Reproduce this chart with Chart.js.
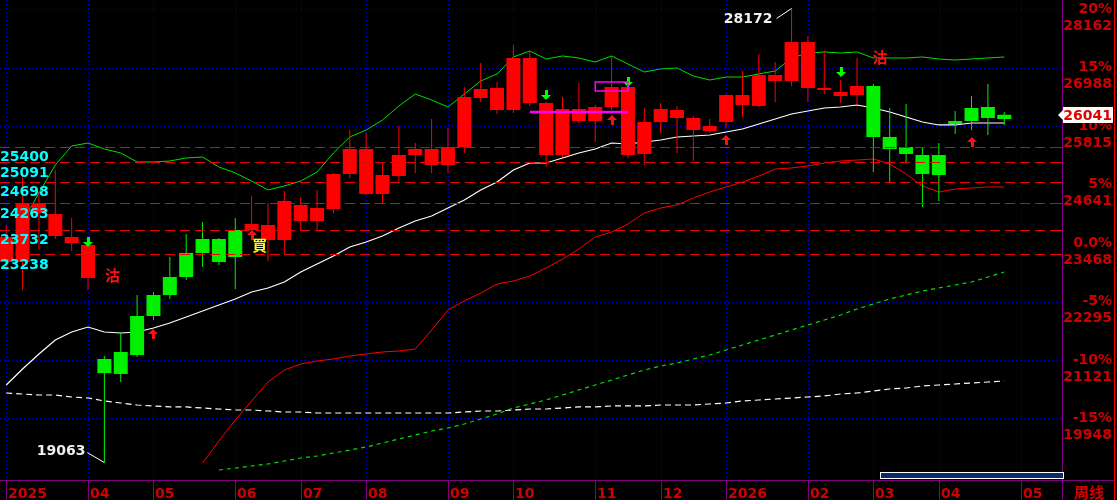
<!DOCTYPE html>
<html lang="zh-Hant">
<head>
<meta charset="utf-8">
<script src="https://cdn.jsdelivr.net/npm/chart.js"></script>
<style>
  html, body { margin: 0; padding: 0; background: #000; }
  #chartBox { width: 1117px; height: 500px; }
</style>
</head>
<body>
<div id="chartBox"><canvas id="chartCanvas" width="1117" height="500"></canvas></div>

<script>
// weekly candles, index 0 = first week shown (Mar 2025)
const openP  = [23087,23087,24070,23609,23468,22766,21141,21282,22004,22425,
                22786,23268,23549,23549,23729,23729,23529,23529,23910,23910,
                24150,24853,24451,24451,24812,25234,25033,25033,25394,26377,
                26136,26136,26277,25234,25234,25916,25916,26197,25234,25254,
                25896,25976,25735,25715,25896,26237,26217,26718,26718,26578,
                26538,26417,26437,26618,25595,25394,25234,25234,25916,26177,
                26197,26041];
const highP  = [23830,24873,24491,24933,23970,23448,21202,21683,22425,22485,
                23188,23649,23890,23569,23970,24411,24271,24512,24391,24532,
                24873,25735,25675,25093,25815,25474,25956,25775,26598,27079,
                26698,27440,27320,26297,26397,26678,26237,27220,26618,26177,
                26277,26217,26016,25956,26457,26919,27260,27099,28172,27621,
                27320,26738,27180,26658,26177,26257,25394,25474,26116,26417,
                26658,26096];
const lowP   = [22927,22526,23328,23549,23308,22526,19063,20680,21182,21924,
                22345,22726,22987,23027,22546,23569,23107,23228,23729,23729,
                24070,24772,24431,24271,24712,24873,24873,24873,25274,26297,
                26056,26076,26217,24993,25194,25876,25495,26136,25174,25033,
                25675,25274,25113,25675,25775,25996,26197,26297,26618,26297,
                26457,26277,26237,24893,24692,25093,24191,24311,25655,25735,
                25635,25836];
const closeP = [23589,24271,24271,24050,23589,23428,20861,20841,21222,22004,
                22425,22786,23268,23087,23188,23850,23830,24311,24231,24170,
                24853,25354,25354,24832,25234,25354,25354,25394,26397,26558,
                26578,27180,27180,26277,26157,26157,26197,26598,26598,25896,
                26157,26136,25976,25815,26437,26437,26839,26839,27500,27500,
                26578,26497,26618,25595,25354,25254,24853,24832,25856,25916,
                25976,25956];

// moving lines
const greenLine = [23168,23890,24471,25033,25414,25474,25354,25274,25093,25093,
                   25113,25174,25194,24993,24873,24712,24532,24612,24712,24893,
                   25274,25595,25735,25936,26217,26457,26337,26197,26457,26718,
                   26859,27200,27320,27160,27220,27180,27099,27220,27059,26899,
                   26959,26979,26818,26738,26798,26798,26859,26919,27180,27280,
                   27300,27280,27300,27180,27180,27180,27200,27160,27139,27160,
                   27180,27200];
const whiteLine = [20620,20941,21242,21523,21683,21783,21683,21663,21683,21763,
                   21864,21984,22104,22225,22345,22485,22566,22686,22887,23047,
                   23208,23388,23489,23609,23769,23910,24010,24170,24331,24532,
                   24692,24933,25073,25073,25174,25274,25354,25474,25454,25495,
                   25535,25595,25615,25635,25695,25755,25856,25956,26056,26116,
                   26177,26197,26237,26177,26096,25996,25896,25836,25836,25876,
                   25876,25876];
const redLine = Array(12).fill(null).concat([
                   19055,19496,19918,20299,20680,20921,21041,21101,
                   21141,21202,21242,21282,21302,21342,21723,22124,22305,22465,
                   22646,22706,22806,22967,23147,23348,23589,23689,23850,24070,
                   24170,24231,24371,24491,24592,24692,24812,24953,24973,25013,
                   25073,25113,25133,25153,25053,24853,24612,24491,24552,24572,
                   24592,24592]);
const greenDashLine = Array(13).fill(null).concat([
                   18915,18955,18995,19035,19095,19155,19196,
                   19256,19316,19376,19456,19537,19617,19697,19757,19838,19938,
                   20038,20158,20239,20319,20419,20520,20620,20720,20820,20921,
                   21001,21061,21141,21222,21322,21422,21523,21623,21723,21823,
                   21924,22024,22144,22245,22345,22425,22505,22566,22626,22686,
                   22786,22887]);
const whiteDashLine = [20459,20439,20419,20419,20379,20359,20299,20259,20219,20199,
                   20179,20179,20158,20138,20118,20118,20098,20078,20078,20058,
                   20058,20058,20058,20058,20058,20058,20058,20058,20078,20098,
                   20098,20118,20138,20138,20158,20179,20179,20199,20199,20199,
                   20219,20219,20219,20239,20259,20299,20319,20339,20359,20379,
                   20399,20439,20459,20500,20540,20560,20600,20620,20640,20660,
                   20680,20700];

// axis / labels
const monthIdx    = [0, 5, 9, 14, 18, 22, 27, 31, 36, 40, 44, 49, 53, 57, 62];
const monthLabels = ['2025','04','05','06','07','08','09','10','11','12','2026','02','03','04','05'];
const basePrice = 23468;
const pctTicks  = [20, 15, 10, 5, 0, -5, -10, -15];
const levelPrices = [25400, 25091, 24698, 24263, 23732, 23238];
const lastPrice = 26041;

// signals
const sellIdx = [5, 33, 38, 51];
const sellAt  = [23388, 26337, 26598, 26798];
const buyIdx  = [9, 15, 37, 44, 59];
const buyAt   = [21738, 23729, 26036, 25635, 25595];
const sellTextIdx = [6.5, 53.4];
const sellTextAt  = [22827, 27200];
const buyTextIdx  = [15.5];
const buyTextAt   = [23428];
const pinkLineIdx = [32, 38];
const pinkLineAt  = 26096;
const pinkBoxIdx  = [36, 38];
const pinkBoxAt   = [26517, 26698];

const RED = '#ff0000', GREEN = '#00f000', LABEL_RED = '#d00000';
const FONT = 'bold 14px "DejaVu Sans"';

const idx = openP.map((_, i) => i);
const candleColor = idx.map(i => closeP[i] >= openP[i] ? RED : GREEN);

function lineSet(values, color, dash, width) {
  return {
    type: 'line',
    data: values.map((v, i) => ({ x: i, y: v })),
    borderColor: color,
    borderWidth: width,
    borderDash: dash,
    pointRadius: 0,
    tension: 0,
    order: 5
  };
}

const decor = {
  id: 'decor',
  beforeDraw(chart) {
    const ctx = chart.ctx;
    ctx.save();
    ctx.fillStyle = '#000';
    ctx.fillRect(0, 0, chart.width, chart.height);
    ctx.restore();
  },
  beforeDatasetsDraw(chart) {
    const { ctx, chartArea: a } = chart;
    const X = v => chart.scales.x.getPixelForValue(v);
    const Y = v => chart.scales.y.getPixelForValue(v);
    ctx.save();
    ctx.strokeStyle = '#0000b4';
    ctx.lineWidth = 1;
    ctx.setLineDash([1, 3]);
    pctTicks.forEach(p => {
      const y = Math.round(Y(basePrice * (1 + p / 100))) + 0.5;
      ctx.beginPath(); ctx.moveTo(a.left, y); ctx.lineTo(a.right, y); ctx.stroke();
    });
    monthIdx.forEach(i => {
      const x = Math.round(X(i)) + 0.5;
      ctx.beginPath(); ctx.moveTo(x, a.top); ctx.lineTo(x, a.bottom); ctx.stroke();
    });
    ctx.restore();
  },
  afterDatasetsDraw(chart) {
    const { ctx, chartArea: a } = chart;
    const X = v => chart.scales.x.getPixelForValue(v);
    const Y = v => chart.scales.y.getPixelForValue(v);
    ctx.save();

    // red dashed levels
    ctx.strokeStyle = '#f00000';
    ctx.lineWidth = 1;
    ctx.setLineDash([10, 5]);
    levelPrices.forEach(p => {
      const y = Math.round(Y(p)) + 0.5;
      ctx.beginPath(); ctx.moveTo(a.left, y); ctx.lineTo(a.right, y); ctx.stroke();
    });
    ctx.setLineDash([]);
    levelPrices.forEach(p => {
      const y = Math.round(Y(p)) + 0.5;
      ctx.beginPath(); ctx.moveTo(a.right - 6, y); ctx.lineTo(a.right, y); ctx.stroke();
    });

    // cyan level labels
    ctx.font = FONT;
    ctx.fillStyle = '#00ffff';
    ctx.textAlign = 'left';
    ctx.textBaseline = 'middle';
    levelPrices.forEach(p => ctx.fillText(String(p), 0, Y(p) + 11));

    // arrows
    function arrow(x, tip, dir, color) {
      ctx.fillStyle = color;
      ctx.beginPath();
      ctx.moveTo(x, tip);
      ctx.lineTo(x - 5, tip + 5 * dir);
      ctx.lineTo(x + 5, tip + 5 * dir);
      ctx.closePath();
      ctx.fill();
      ctx.fillRect(x - 1, dir > 0 ? tip + 5 : tip - 10, 3, 5);
    }
    sellIdx.forEach((i, k) => arrow(Math.round(X(i)), Math.round(Y(sellAt[k])), -1, '#00ff00'));
    buyIdx.forEach((i, k) => arrow(Math.round(X(i)), Math.round(Y(buyAt[k])), 1, '#ff1010'));

    // sell / buy words
    ctx.font = 'bold 15px "Noto Sans CJK TC"';
    ctx.textAlign = 'center';
    ctx.fillStyle = '#ff1010';
    sellTextIdx.forEach((i, k) => ctx.fillText('沽', X(i), Y(sellTextAt[k])));
    ctx.fillStyle = '#ffff00';
    buyTextIdx.forEach((i, k) => ctx.fillText('買', X(i), Y(buyTextAt[k])));

    // magenta marks
    ctx.strokeStyle = '#ff00ff';
    ctx.lineWidth = 2.5;
    const py = Math.round(Y(pinkLineAt));
    ctx.beginPath(); ctx.moveTo(X(pinkLineIdx[0]), py); ctx.lineTo(X(pinkLineIdx[1]), py); ctx.stroke();
    ctx.lineWidth = 1.5;
    const bx0 = X(pinkBoxIdx[0]), bx1 = X(pinkBoxIdx[1]);
    const by0 = Y(pinkBoxAt[1]), by1 = Y(pinkBoxAt[0]);
    ctx.strokeRect(bx0, by0, bx1 - bx0, by1 - by0);

    // highest / lowest notes
    const hiI = highP.indexOf(Math.max(...highP));
    const loI = lowP.indexOf(Math.min(...lowP));
    ctx.strokeStyle = '#ffffff';
    ctx.lineWidth = 1;
    ctx.fillStyle = '#f0f0f0';
    ctx.font = FONT;
    ctx.textAlign = 'right';
    let hx = X(hiI), hy = Y(highP[hiI]);
    ctx.beginPath(); ctx.moveTo(hx, hy); ctx.lineTo(hx - 15, hy + 10); ctx.stroke();
    ctx.fillText(String(highP[hiI]), hx - 19, hy + 11);
    let lx = X(loI), ly = Y(lowP[loI]);
    ctx.beginPath(); ctx.moveTo(lx, ly); ctx.lineTo(lx - 17, ly - 10); ctx.stroke();
    ctx.fillText(String(lowP[loI]), lx - 19, ly - 11);

    // frame lines
    ctx.strokeStyle = '#800080';
    ctx.lineWidth = 1;
    ctx.beginPath(); ctx.moveTo(a.right + 0.5, 0); ctx.lineTo(a.right + 0.5, chart.height); ctx.stroke();
    ctx.beginPath(); ctx.moveTo(0, a.bottom + 0.5); ctx.lineTo(1114, a.bottom + 0.5); ctx.stroke();
    monthIdx.forEach(i => {
      const x = Math.round(X(i)) + 0.5;
      ctx.beginPath(); ctx.moveTo(x, a.bottom); ctx.lineTo(x, chart.height); ctx.stroke();
    });
    ctx.strokeStyle = '#ff0000';
    ctx.beginPath(); ctx.moveTo(1114.5, 0); ctx.lineTo(1114.5, chart.height); ctx.stroke();

    // bottom month labels
    ctx.fillStyle = LABEL_RED;
    ctx.textAlign = 'left';
    ctx.textBaseline = 'alphabetic';
    monthIdx.forEach((i, k) => ctx.fillText(monthLabels[k], Math.round(X(i)) + 2, 498));
    ctx.font = 'bold 15px "Noto Sans CJK SC"';
    ctx.fillText('周线', 1074, 498);

    // right scale
    ctx.font = FONT;
    ctx.textAlign = 'right';
    ctx.textBaseline = 'middle';
    pctTicks.forEach(p => {
      const price = Math.round(basePrice * (1 + p / 100));
      const y = Y(price);
      ctx.fillText(p === 0 ? '0.0%' : p + '%', 1112, y);
      ctx.fillText(String(price), 1112, y + 17);
    });

    // scroll bar
    ctx.fillStyle = '#0b2a68';
    ctx.fillRect(881, 473, 182, 5);
    ctx.strokeStyle = '#ffffff';
    ctx.strokeRect(880.5, 472.5, 183, 6);

    // last price tag
    const ty = Math.round(Y(lastPrice));
    ctx.fillStyle = '#ffffff';
    ctx.beginPath();
    ctx.moveTo(1058, ty);
    ctx.lineTo(1063, ty - 5);
    ctx.lineTo(1063, ty + 5);
    ctx.closePath();
    ctx.fill();
    ctx.fillRect(1063, ty - 8, 50, 16);
    ctx.fillStyle = '#e00000';
    ctx.fillText(String(lastPrice), 1112, ty + 1);

    ctx.restore();
  }
};

new Chart(document.getElementById('chartCanvas'), {
  type: 'bar',
  data: {
    datasets: [
      {
        label: 'body',
        data: idx.map(i => ({ x: i, y: [Math.min(openP[i], closeP[i]), Math.max(openP[i], closeP[i])] })),
        backgroundColor: candleColor,
        borderWidth: 0,
        barThickness: 14,
        grouped: false,
        inflateAmount: 0,
        order: 0
      },
      {
        label: 'wick',
        data: idx.map(i => ({ x: i, y: [lowP[i], highP[i]] })),
        backgroundColor: candleColor,
        borderWidth: 0,
        barThickness: 1,
        grouped: false,
        inflateAmount: 0,
        order: 1
      },
      lineSet(greenLine, '#00e000', [], 1),
      lineSet(whiteLine, '#ffffff', [], 1.2),
      lineSet(redLine, '#ff0000', [], 1),
      lineSet(greenDashLine, '#00e000', [4, 4], 1.2),
      lineSet(whiteDashLine, '#ffffff', [6, 4], 1.2)
    ]
  },
  options: {
    responsive: false,
    animation: false,
    devicePixelRatio: 1,
    layout: { padding: { left: 0, top: 0, right: 55, bottom: 20 } },
    plugins: { legend: { display: false }, tooltip: { enabled: false } },
    scales: {
      x: { type: 'linear', min: -0.38, max: 64.53, offset: false, display: false },
      y: { min: 18714, max: 28343, display: false }
    }
  },
  plugins: [decor]
});
</script>
</body>
</html>
